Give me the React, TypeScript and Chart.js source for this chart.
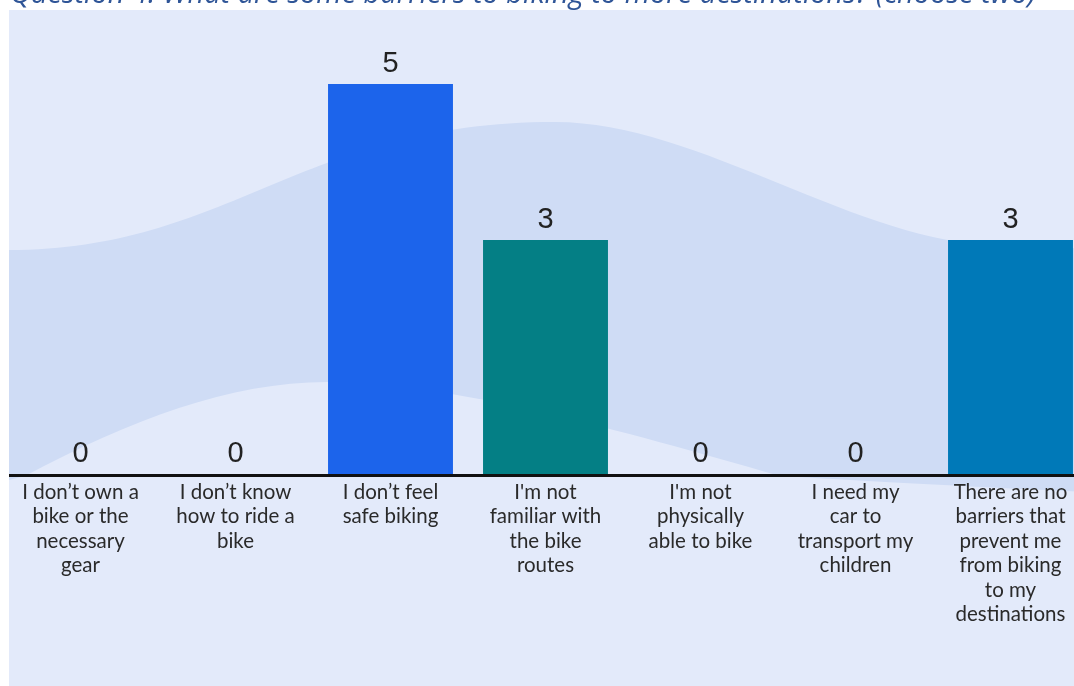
import React, { useEffect, useRef } from "react";
import { Chart, registerables } from "chart.js";

Chart.register(...registerables);

const TITLE = "Question 4: What are some barriers to biking to more destinations? (choose two)";

const categories: string[][] = [
  ["I don\u2019t own a", "bike or the", "necessary", "gear"],
  ["I don\u2019t know", "how to ride a", "bike"],
  ["I don\u2019t feel", "safe biking"],
  ["I'm not", "familiar with", "the bike", "routes"],
  ["I'm not", "physically", "able to bike"],
  ["I need my", "car to", "transport my", "children"],
  ["There are no", "barriers that", "prevent me", "from biking", "to my", "destinations"],
];

const counts: number[] = [0, 0, 5, 3, 0, 0, 3];

const barColors: string[] = ["#1c64eb", "#1c64eb", "#1c64eb", "#047f85", "#047f85", "#047f85", "#0079b8"];

const W = 1091;
const H = 686;

const backgroundPlugin = {
  id: "bgWaves",
  beforeDraw(chart: any) {
    const ctx = chart.ctx as CanvasRenderingContext2D;
    const w = chart.width;
    const h = chart.height;
    ctx.save();
    ctx.fillStyle = "#ffffff";
    ctx.fillRect(0, 0, w, h);
    const px = 9;
    const py = 10;
    ctx.fillStyle = "#e3eafa";
    ctx.fillRect(px, py, w - px, h - py);
    // decorative wave band
    ctx.beginPath();
    ctx.rect(px, py, w - px, h - py);
    ctx.clip();
    ctx.beginPath();
    ctx.moveTo(px, 250);
    ctx.bezierCurveTo(230, 250, 300, 122, 555, 122);
    ctx.bezierCurveTo(700, 122, 860, 245, 1000, 245);
    ctx.bezierCurveTo(1040, 247, 1070, 248, w, 249);
    ctx.lineTo(w, 492);
    ctx.bezierCurveTo(950, 486, 850, 480, 780, 476);
    ctx.bezierCurveTo(620, 430, 450, 382, 327, 382);
    ctx.bezierCurveTo(230, 382, 130, 420, 25, 476);
    ctx.lineTo(px, 480);
    ctx.closePath();
    ctx.fillStyle = "#cfdcf5";
    ctx.fill();
    ctx.restore();
  },
  afterDatasetsDraw(chart: any) {
    const ctx = chart.ctx as CanvasRenderingContext2D;
    const area = chart.chartArea;
    ctx.save();
    // baseline
    ctx.strokeStyle = "#111111";
    ctx.lineWidth = 3;
    ctx.beginPath();
    ctx.moveTo(9, area.bottom + 1.5);
    ctx.lineTo(chart.width, area.bottom + 1.5);
    ctx.stroke();
    // value labels
    const meta = chart.getDatasetMeta(0);
    ctx.fillStyle = "#222222";
    ctx.font = "29px 'Liberation Sans', Arial, sans-serif";
    ctx.textAlign = "center";
    ctx.textBaseline = "alphabetic";
    meta.data.forEach((bar: any, i: number) => {
      ctx.fillText(String(counts[i]), bar.x, bar.y - 12);
    });
    // title (cut off at the top, as in the source)
    ctx.fillStyle = "#2f5597";
    ctx.font = "italic 29px 'Open Sans', sans-serif";
    ctx.textAlign = "left";
    ctx.fillText(TITLE, 10, 3, 1032);
    ctx.restore();
  },
};

export default function App() {
  const ref = useRef<HTMLCanvasElement | null>(null);
  useEffect(() => {
    if (!ref.current) return;
    const chart = new Chart(ref.current, {
      type: "bar",
      data: {
        labels: categories,
        datasets: [
          {
            data: counts,
            backgroundColor: barColors,
            borderWidth: 0,
            barPercentage: 1,
            categoryPercentage: 0.806,
          },
        ],
      },
      options: {
        responsive: false,
        animation: false,
        devicePixelRatio: 1,
        layout: { padding: { top: 45, left: 3, right: 3, bottom: 0 } },
        plugins: {
          legend: { display: false },
          tooltip: { enabled: false },
          title: { display: false },
        },
        scales: {
          x: {
            grid: { display: false, drawTicks: false },
            border: { display: false },
            ticks: {
              autoSkip: false,
              maxRotation: 0,
              minRotation: 0,
              padding: 6,
              color: "#2a2a2a",
              font: { family: "Lato, 'Noto Sans', sans-serif", size: 20.5, lineHeight: 24.5 / 20.5 },
            },
            afterFit(scale: any) {
              scale.height = 212;
            },
          },
          y: {
            display: false,
            min: 0,
            max: 5.5,
          },
        },
      },
      plugins: [backgroundPlugin],
    });
    return () => chart.destroy();
  }, []);
  return (
    <div
      style={{
        position: "fixed",
        left: 0,
        top: 0,
        width: 1074,
        height: H,
        overflow: "hidden",
        background: "#ffffff",
      }}
    >
      <canvas ref={ref} width={W} height={H} style={{ width: W, height: H, display: "block" }} />
    </div>
  );
}
